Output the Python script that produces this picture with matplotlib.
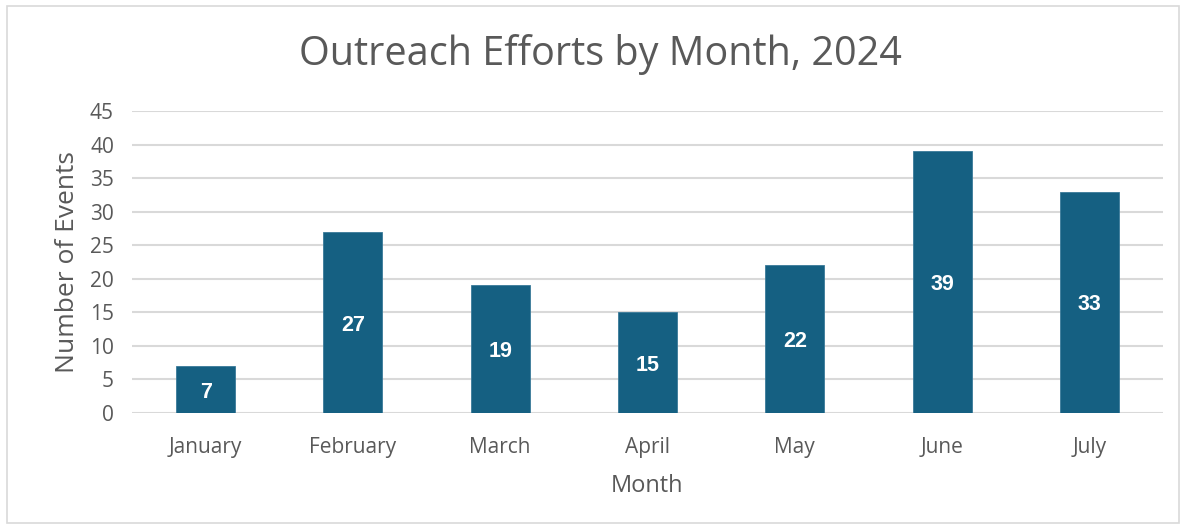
import matplotlib

matplotlib.use("Agg")
import matplotlib.pyplot as plt
from matplotlib.patches import Rectangle

# data
months = ["January", "February", "March", "April", "May", "June", "July"]
events = [7, 27, 19, 15, 22, 39, 33]
yticks = [0, 5, 10, 15, 20, 25, 30, 35, 40, 45]

BAR = "#156082"
TXT = "#595959"
GRID = "#d9d9d9"

plt.rcParams["font.family"] = ["Open Sans", "DejaVu Sans"]

fig = plt.figure(figsize=(11.86, 5.29), dpi=100)
ax = fig.add_axes([0.1113, 0.2193, 0.8693, 0.5709])

x = range(len(months))
bars = ax.bar(x, events, width=0.4, color=BAR, edgecolor="#3a7a99", lw=0.6, zorder=3)
for b, v in zip(bars, events):
    ax.text(b.get_x() + b.get_width() / 2, v / 2 - 0.4, str(v), ha="center", va="center",
            color="white", fontsize=15.5, fontweight="bold", family="Liberation Sans", zorder=4)

ax.set_xlim(-0.5, len(months) - 0.5)
ax.set_ylim(0, 45)
ax.set_yticks(yticks)
ax.set_xticks(list(x))
ax.set_xticklabels(months)
ax.tick_params(axis="both", length=0, labelsize=15, colors=TXT)
ax.tick_params(axis="x", pad=17)
ax.tick_params(axis="y", pad=13)
ax.yaxis.grid(True, color=GRID, lw=1.5, zorder=0)
for s in ax.spines.values():
    s.set_visible(False)

ax.set_xlabel("Month", fontsize=17, color=TXT, labelpad=12)
ax.set_ylabel("Number of Events", fontsize=19, color=TXT, labelpad=7)

fig.text(0.506, 0.897, "Outreach Efforts by Month, 2024", ha="center", va="center",
         fontsize=28.5, color=TXT)

fig.patches.append(Rectangle((0.006, 0.011), 0.988, 0.978, transform=fig.transFigure,
                             fill=False, ec=GRID, lw=1.2))

fig.savefig("out.png", dpi=100, facecolor="white")
